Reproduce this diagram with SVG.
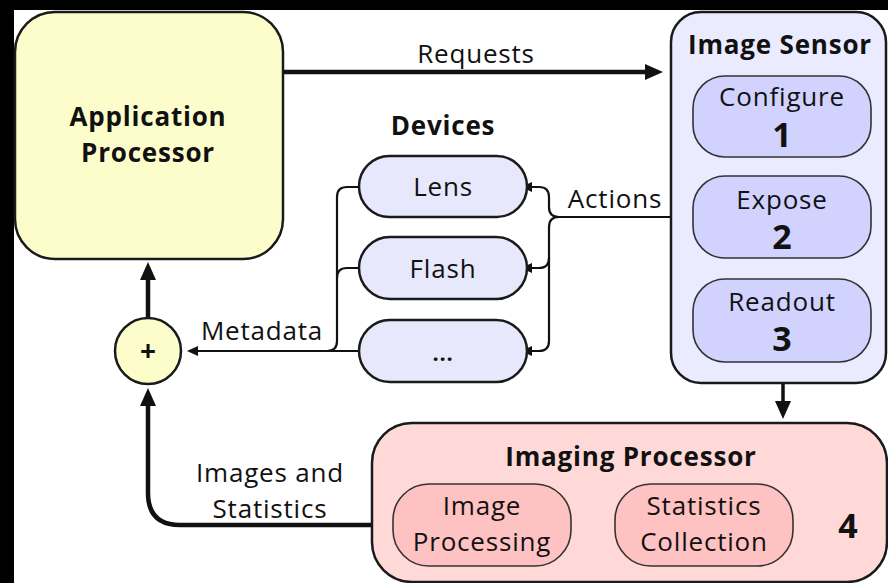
<svg xmlns="http://www.w3.org/2000/svg" width="888" height="583" viewBox="0 0 888 583">
  <defs>
    <style>
      text { font-family: "Open Sans", "Liberation Sans", sans-serif; fill: #111; text-anchor: middle; letter-spacing: 0.8px; }
      .lbl { font-size: 26px; }
      .title { font-size: 26px; font-weight: bold; }
      .num { font-size: 34px; font-weight: bold; letter-spacing: 0; }
      .box { stroke: #1a1a1a; stroke-width: 2.5; }
      .inner { stroke: #333; stroke-width: 1.6; }
      .thick { fill: none; stroke: #111; stroke-width: 4.5; }
      .thin { fill: none; stroke: #111; stroke-width: 2.2; }
    </style>
    <marker id="bigHead" markerUnits="userSpaceOnUse" markerWidth="18" markerHeight="16" refX="1" refY="8" orient="auto">
      <path d="M0,0 L18,8 L0,16 Z" fill="#111"/>
    </marker>
    <marker id="smallHead" markerUnits="userSpaceOnUse" markerWidth="11" markerHeight="10" refX="1" refY="5" orient="auto">
      <path d="M0,0 L11,5 L0,10 Z" fill="#111"/>
    </marker>
  </defs>

  <!-- frame -->
  <rect x="0" y="0" width="888" height="583" fill="#000"/>
  <rect x="14" y="10" width="874" height="573" fill="#fff"/>

  <!-- connectors -->
  <g id="connectors">
    <!-- Requests -->
    <path class="thick" d="M283,72 H646" marker-end="url(#bigHead)"/>
    <text class="lbl" x="476" y="63">Requests</text>

    <!-- Actions fan-out -->
    <path class="thin" d="M693,217 H559 Q549,217 549,207 V197 Q549,187 539,187 H531" marker-end="url(#smallHead)"/>
    <path class="thin" d="M559,217 Q549,217 549,227 V258 Q549,268 539,268 H531" marker-end="url(#smallHead)"/>
    <path class="thin" d="M549,258 V341 Q549,351 539,351 H531" marker-end="url(#smallHead)"/>
    <text class="lbl" x="615" y="208">Actions</text>

    <!-- Metadata collection -->
    <path class="thin" d="M359,187 H347 Q337,187 337,197 V341 Q337,351 327,351"/>
    <path class="thin" d="M359,268 H347 Q337,268 337,278"/>
    <path class="thin" d="M359,351 H197" marker-end="url(#smallHead)"/>
    <text class="lbl" x="262" y="340">Metadata</text>

    <!-- sum to application processor -->
    <path class="thick" d="M148,318 V279" marker-end="url(#bigHead)"/>

    <!-- Images and Statistics -->
    <path class="thick" d="M372,525 H180 Q148,525 148,493 V405" marker-end="url(#bigHead)"/>
    <text class="lbl" x="270" y="482">Images and</text>
    <text class="lbl" x="270" y="518">Statistics</text>

    <!-- sensor to imaging processor -->
    <path class="thick" style="stroke-width:3.5" d="M783,383 V402" marker-end="url(#bigHead)"/>
  </g>

  <!-- Application Processor -->
  <g id="app-processor">
    <rect class="box" x="15" y="12" width="268" height="247" rx="40" fill="#fdfdcc"/>
    <text class="title" x="148" y="126">Application</text>
    <text class="title" x="148" y="162">Processor</text>
  </g>

  <!-- Sum node -->
  <g id="sum">
    <circle class="box" cx="148" cy="351" r="33" fill="#fdfdcc"/>
    <text class="title" x="148" y="361" style="font-size:28px;letter-spacing:0">+</text>
  </g>

  <!-- Devices -->
  <g id="devices">
    <text class="title" x="443" y="135">Devices</text>
  </g>
  <g id="lens">
    <rect class="box" x="359" y="156" width="168" height="61" rx="30.5" fill="#e8e8fc"/>
    <text class="lbl" x="443" y="196">Lens</text>
  </g>
  <g id="flash">
    <rect class="box" x="359" y="237" width="168" height="62" rx="31" fill="#e8e8fc"/>
    <text class="lbl" x="443" y="278">Flash</text>
  </g>
  <g id="more-devices">
    <rect class="box" x="359" y="320" width="168" height="62" rx="31" fill="#e8e8fc"/>
    <text class="title" x="443" y="361" style="font-size:22px">...</text>
  </g>

  <!-- Image Sensor -->
  <g id="image-sensor">
    <rect class="box" x="671" y="12" width="215" height="371" rx="30" fill="#ebebff"/>
    <text class="title" x="780" y="54">Image Sensor</text>
  </g>
  <g id="configure">
    <rect class="inner" x="693" y="76" width="178" height="81" rx="32" fill="#d2d2ff"/>
    <text class="lbl" x="782" y="106">Configure</text>
    <text class="num" x="782" y="147">1</text>
  </g>
  <g id="expose">
    <rect class="inner" x="693" y="176" width="178" height="82" rx="32" fill="#d2d2ff"/>
    <text class="lbl" x="782" y="209">Expose</text>
    <text class="num" x="782" y="249">2</text>
  </g>
  <g id="readout">
    <rect class="inner" x="693" y="279" width="178" height="83" rx="32" fill="#d2d2ff"/>
    <text class="lbl" x="782" y="311">Readout</text>
    <text class="num" x="782" y="351">3</text>
  </g>

  <!-- Imaging Processor -->
  <g id="imaging-processor">
    <rect class="box" x="372" y="423" width="515" height="159" rx="40" fill="#ffd8d8"/>
    <text class="title" x="631" y="466">Imaging Processor</text>
    <text class="num" x="848" y="538">4</text>
  </g>
  <g id="image-processing">
    <rect class="inner" x="393" y="484" width="178" height="82" rx="36" fill="#ffc2c2"/>
    <text class="lbl" x="482" y="515">Image</text>
    <text class="lbl" x="482" y="551">Processing</text>
  </g>
  <g id="statistics-collection">
    <rect class="inner" x="615" y="484" width="178" height="82" rx="36" fill="#ffc2c2"/>
    <text class="lbl" x="704" y="515">Statistics</text>
    <text class="lbl" x="704" y="551">Collection</text>
  </g>
</svg>
